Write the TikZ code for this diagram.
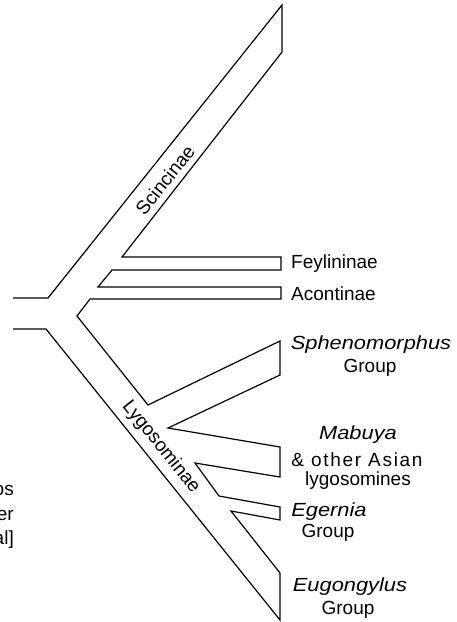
\documentclass[tikz,border=0pt]{standalone}
\usepackage{fontspec}
\setmainfont{Liberation Sans}
\newfontfamily\taxonfont{Liberation Sans}[FakeStretch=1.15]
\newcommand{\taxon}[1]{{\taxonfont\itshape #1}}

\begin{document}
\begin{tikzpicture}[x=1pt,y=-1pt,
    branch/.style={line width=1.2pt, line join=miter},
    lbl/.style={inner sep=0pt, font=\fontsize{19}{22}\selectfont}]
    \useasboundingbox (0,0) rectangle (456,622);

    % outline of the tree
    \draw[branch] (13,298) -- (48,298) -- (282,5) -- (282,52) -- (122,257)
        -- (281,257) -- (281,270) -- (112,270) -- (98,287)
        -- (281,287) -- (281,299) -- (90,299) -- (77,316)
        -- (148,405) -- (280,341) -- (280,375) -- (168,428)
        -- (280,447) -- (280,477) -- (195,463) -- (219,496)
        -- (280,507) -- (280,520) -- (231,511) -- (280,573)
        -- (280,620) -- (46,329) -- (13,329);

    \node[lbl, rotate=51.4] (scinc) at (165,180) {Scincinae};
    \node[lbl, rotate=-51.2] (lygos) at (161,447) {Lygosominae};

    \node[lbl, anchor=west] (feyl) at (291,264) {Feylininae};
    \node[lbl, anchor=west] (acon) at (291,294) {Acontinae};

    \node[lbl] (spheno) at (371,345) {\taxon{Sphenomorphus}};
    \node[lbl] (sphenog) at (370,368) {Group};

    \node[lbl] (mabuya) at (358,435) {\taxon{Mabuya}};
    \node[lbl] (asian) at (357,460) {\addfontfeatures{LetterSpace=9}\& other Asian};
    \node[lbl] (lygmin) at (358,481) {lygosomines};

    \node[lbl] (egernia) at (329,512) {\taxon{Egernia}};
    \node[lbl] (egerg) at (328,533) {Group};

    \node[lbl] (eugong) at (350,587) {\taxon{Eugongylus}};
    \node[lbl] (eugongg) at (348,610) {Group};

    % cut-off text at the left edge
    \begin{scope}
        \clip (0,0) rectangle (456,622);
        \node[lbl, anchor=east] (cuta) at (14,490) {os};
        \node[lbl, anchor=east] (cutb) at (14,515) {er};
        \node[lbl, anchor=east] (cutc) at (14,540) {al]};
    \end{scope}
\end{tikzpicture}
\end{document}
